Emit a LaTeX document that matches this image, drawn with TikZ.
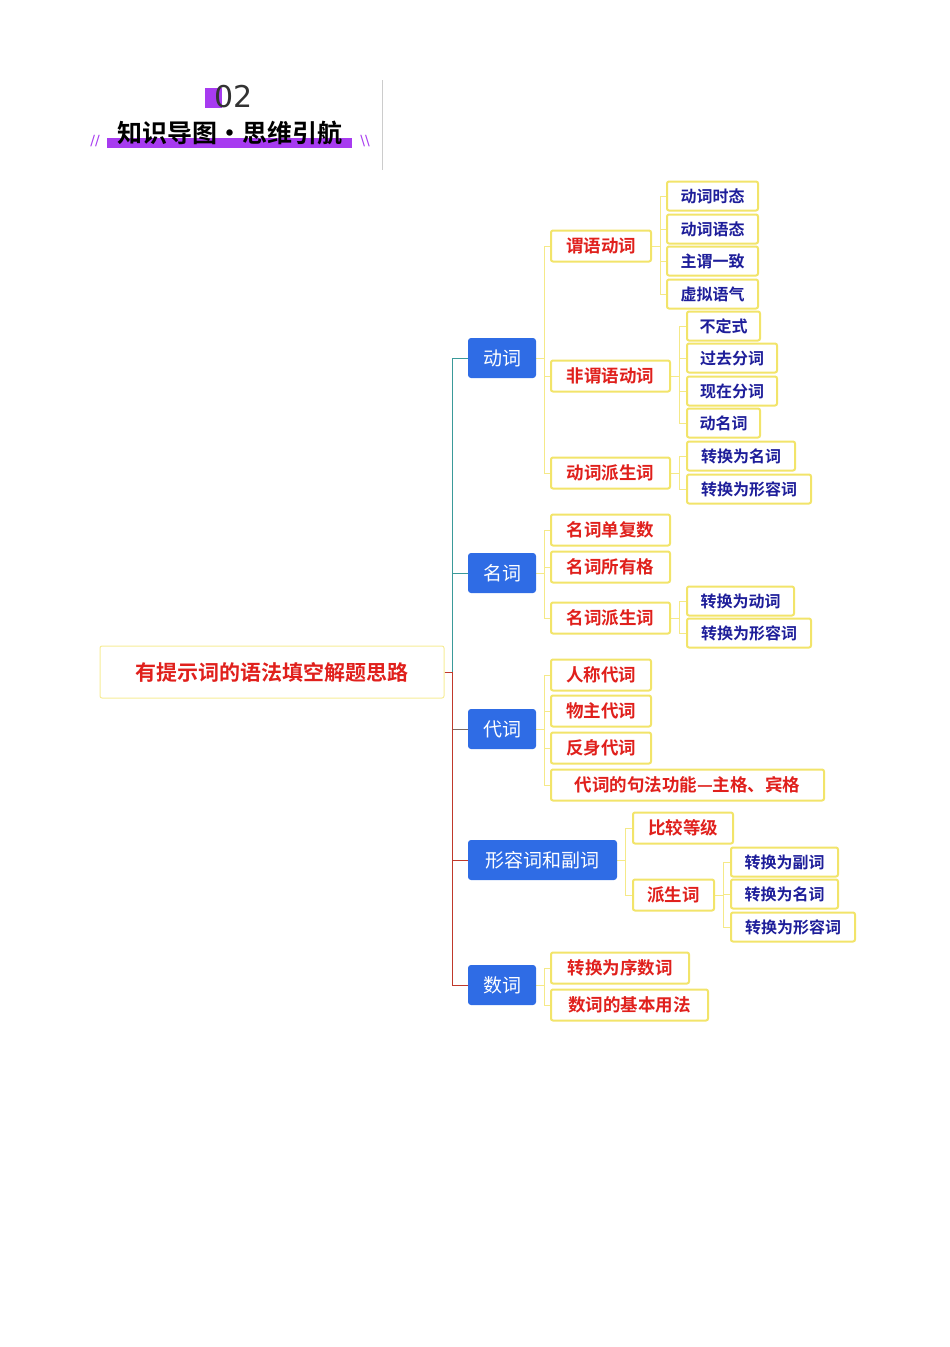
\documentclass[tikz,border=0pt]{standalone}
\usepackage{fontspec}
\usetikzlibrary{backgrounds}
\newfontfamily\cjk{Noto Sans CJK SC}
\newfontfamily\cjkb{Noto Sans CJK SC Bold}
\definecolor{ybord}{HTML}{F2E46A}
\definecolor{rtxt}{HTML}{E0201C}
\definecolor{btxt}{HTML}{1E1E9A}
\definecolor{bfill}{HTML}{2F6CE5}
\definecolor{purp}{HTML}{A73BF0}
\definecolor{teal}{HTML}{3A9A9A}
\definecolor{dred}{HTML}{C0392B}
\newcommand{\bx}[7]{\node[#2,minimum width=#4pt-#3pt] (#1) at ({(#3+#4)/2},#5) {#6};}
\begin{document}
\begin{tikzpicture}[x=1pt,y=-1pt,
 l1/.style={fill=bfill,rounded corners=3pt,text=white,font=\cjk\fontsize{19}{21}\selectfont,minimum height=40pt,inner sep=0pt},
 l2/.style={draw=ybord,line width=2pt,rounded corners=2pt,fill=white,text=rtxt,font=\cjkb\fontsize{17.5}{19}\selectfont,minimum height=31pt,inner sep=0pt},
 l3/.style={draw=ybord,line width=2pt,rounded corners=2pt,fill=white,text=btxt,font=\cjkb\fontsize{16}{17}\selectfont,minimum height=29pt,inner sep=0pt},
 cn/.style={draw=ybord!80,line width=0.8pt}]
\useasboundingbox (0,0) rectangle (950,1347);
% header
\fill[purp] (205,88) rectangle (222,108);
\node[font=\fontspec{DejaVu Sans}\fontsize{30}{32}\selectfont,text=black!80] (num) at (234,97) {02};
\fill[purp] (107,138) rectangle (352,148);
\node[font=\cjkb\fontsize{25}{27}\selectfont] (ttl) at (230,133) {知识导图·思维引航};
\node[text=purp,font=\fontspec{DejaVu Sans}\fontsize{14}{14}\selectfont] (s1) at (95,141) {//};
\node[text=purp,font=\fontspec{DejaVu Sans}\fontsize{14}{14}\selectfont] (s2) at (365,141) {\textbackslash\textbackslash};
\draw[gray!40,line width=0.8pt] (382,80) -- (382,170);
% root
\node[draw=ybord!70,line width=1pt,rounded corners=2pt,text=rtxt,font=\cjkb\fontsize{21}{23}\selectfont,minimum width=344pt,minimum height=52pt] (root) at (272,672) {有提示词的语法填空解题思路};
% level1
\bx{v}{l1}{468}{536}{358}{动词}{}
\bx{n}{l1}{468}{536}{573}{名词}{}
\bx{p}{l1}{468}{536}{729}{代词}{}
\bx{a}{l1}{468}{617}{860}{形容词和副词}{}
\bx{m}{l1}{468}{536}{985}{数词}{}
\begin{scope}[on background layer]
\foreach \c/\col in {v/teal,n/teal,p/teal!50!dred,a/dred,m/dred}
  \draw[\col,line width=0.9pt] (root.east) -- (452,672) |- (\c.west);
\end{scope}
% level2
\bx{v1}{l2}{551}{651}{246}{谓语动词}{}
\bx{v2}{l2}{551}{670}{376}{非谓语动词}{}
\bx{v3}{l2}{551}{670}{473}{动词派生词}{}
\bx{n1}{l2}{551}{670}{530}{名词单复数}{}
\bx{n2}{l2}{551}{670}{567}{名词所有格}{}
\bx{n3}{l2}{551}{670}{618}{名词派生词}{}
\bx{p1}{l2}{551}{651}{675}{人称代词}{}
\bx{p2}{l2}{551}{651}{711}{物主代词}{}
\bx{p3}{l2}{551}{651}{748}{反身代词}{}
\bx{p4}{l2}{551}{824}{785}{代词的句法功能—主格、宾格}{}
\bx{a1}{l2}{633}{733}{828}{比较等级}{}
\bx{a2}{l2}{633}{714}{895}{派生词}{}
\bx{m1}{l2}{551}{689}{968}{转换为序数词}{}
\bx{m2}{l2}{551}{708}{1005}{数词的基本用法}{}
% level3
\bx{t1}{l3}{667}{758}{196}{动词时态}{}
\bx{t2}{l3}{667}{758}{229}{动词语态}{}
\bx{t3}{l3}{667}{758}{261}{主谓一致}{}
\bx{t4}{l3}{667}{758}{294}{虚拟语气}{}
\bx{u1}{l3}{687}{760}{326}{不定式}{}
\bx{u2}{l3}{687}{777}{358}{过去分词}{}
\bx{u3}{l3}{687}{777}{391}{现在分词}{}
\bx{u4}{l3}{687}{760}{423}{动名词}{}
\bx{w1}{l3}{687}{795}{456}{转换为名词}{}
\bx{w2}{l3}{687}{811}{489}{转换为形容词}{}
\bx{x1}{l3}{687}{794}{601}{转换为动词}{}
\bx{x2}{l3}{687}{811}{633}{转换为形容词}{}
\bx{y1}{l3}{731}{838}{862}{转换为副词}{}
\bx{y2}{l3}{731}{838}{894}{转换为名词}{}
\bx{y3}{l3}{731}{855}{927}{转换为形容词}{}
% connectors
\begin{scope}[on background layer]
\foreach \p/\cs in {v/{v1,v2,v3},n/{n1,n2,n3},p/{p1,p2,p3,p4},a/{a1,a2},m/{m1,m2},v1/{t1,t2,t3,t4},v2/{u1,u2,u3,u4},v3/{w1,w2},n3/{x1,x2},a2/{y1,y2,y3}}
  \foreach \c in \cs \draw[cn] (\p.east) -- ++(8,0) |- (\c.west);
\end{scope}
\end{tikzpicture}
\end{document}
